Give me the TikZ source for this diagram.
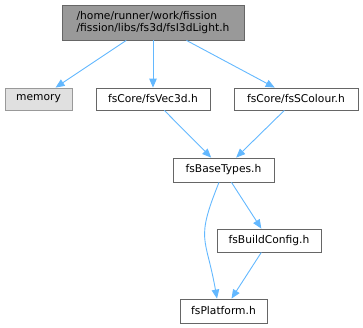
\documentclass[tikz,border=0pt]{standalone}
\usepackage{fontspec}
\setmainfont{DejaVu Sans}
\usetikzlibrary{arrows.meta}
\definecolor{edgeblue}{HTML}{63B8FF}
\definecolor{boxborder}{HTML}{666666}
\definecolor{topfill}{HTML}{999999}
\definecolor{memfill}{HTML}{E0E0E0}
\definecolor{memborder}{HTML}{999999}
\tikzset{
  filebox/.style={draw=boxborder, fill=white, line width=0.8pt, inner sep=0pt, font=\fontsize{10.7}{12}\selectfont, text=black},
  dep/.style={draw=edgeblue, line width=0.9pt, -{Triangle[length=9pt,width=7.5pt]}, color=edgeblue},
}
\begin{document}
\begin{tikzpicture}[x=1pt,y=-1pt]
\useasboundingbox (0,0) rectangle (363,328);
\node[filebox, fill=topfill, minimum width=182pt, minimum height=35pt, align=left] (top) at (153,22.5) {/home/runner/work/fission\\/fission/libs/fs3d/fsI3dLight.h};
\node[filebox, fill=memfill, draw=memborder, minimum width=67pt, minimum height=22pt] (memory) at (38.5,99) {memory};
\node[filebox, minimum width=114pt, minimum height=22pt] (vec) at (153,99) {fsCore/fsVec3d.h};
\node[filebox, minimum width=124pt, minimum height=22pt] (col) at (296,99) {fsCore/fsSColour.h};
\node[filebox, minimum width=101pt, minimum height=24pt] (base) at (223.5,170) {fsBaseTypes.h};
\node[filebox, minimum width=104pt, minimum height=23pt] (build) at (269,240.5) {fsBuildConfig.h};
\node[filebox, minimum width=87pt, minimum height=24pt] (plat) at (223.5,311) {fsPlatform.h};
\draw[dep] (top) -- (memory);
\draw[dep] (top) -- (vec);
\draw[dep] (top) -- (col);
\draw[dep] (vec) -- (base);
\draw[dep] (col) -- (base);
\draw[dep] (base) -- (build);
\draw[dep] (build) -- (plat);
\draw[dep] ([xshift=-4.5pt]base.south) to[out=-112,in=100,looseness=1.4] ([xshift=-6.5pt]plat.north);
\end{tikzpicture}
\end{document}
